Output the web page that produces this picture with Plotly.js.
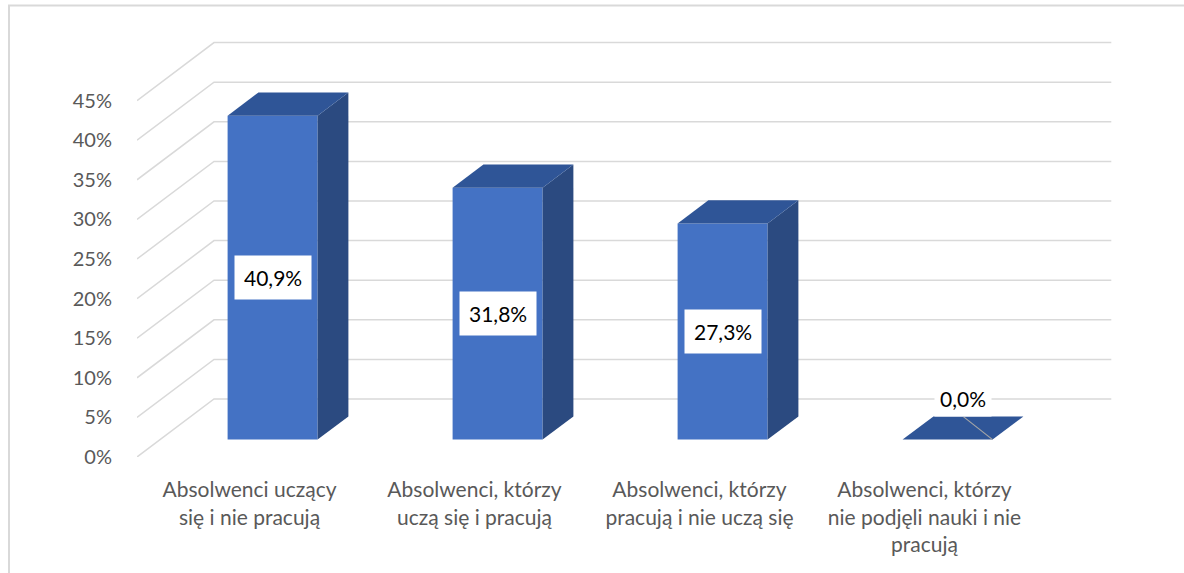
<!DOCTYPE html>
<html>
<head>
<meta charset="utf-8">
<script src="https://cdn.plot.ly/plotly-3.0.1.min.js"></script>
<style>
  html, body { margin: 0; padding: 0; background: #ffffff; }
  #chart { width: 1184px; height: 573px; }
</style>
</head>
<body>
<div id="chart"></div>
<script>
// ---- data ----
const categories = [
  'Absolwenci uczący<br>się i nie pracują',
  'Absolwenci, którzy<br>uczą się i pracują',
  'Absolwenci, którzy<br>pracują i nie uczą się',
  'Absolwenci, którzy<br>nie podjęli nauki i nie<br>pracują'
];
const values = [40.9, 31.8, 27.3, 0.0];
const valueLabels = ['40,9%', '31,8%', '27,3%', '0,0%'];
const yTickVals = [0, 5, 10, 15, 20, 25, 30, 35, 40, 45];
const yTickLabels = ['0%', '5%', '10%', '15%', '20%', '25%', '30%', '35%', '40%', '45%'];

// ---- 3D look (oblique projection in axis units) ----
const W = 1184, H = 573;
const M = { l: 137, r: 57, t: 30, b: 116 };
const pxPerX = 225, pxPerY = 7.92;
const plotW = W - M.l - M.r, plotH = H - M.t - M.b;
const xRange = [0, plotW / pxPerX];
const yRange = [0, plotH / pxPerY];
const DX = 77 / pxPerX;   // x shift for full floor depth
const DY = 58 / pxPerY;   // y shift for full floor depth
const zFront = 0.30, zDepth = 0.40, halfW = 0.2;
const cFront = '#4472C4', cTop = '#2F5597', cSide = '#2B4A80';
const gridColor = '#D9D9D9';
const font = 'Lato, "Open Sans", sans-serif';

const traces = [];
// wall gridlines
yTickVals.forEach(v => {
  traces.push({
    type: 'scatter', mode: 'lines', hoverinfo: 'skip', showlegend: false,
    x: [0, DX, categories.length + DX - 0.012],
    y: [v, v + DY, v + DY],
    line: { color: gridColor, width: 1.5 }
  });
});

function poly(xs, ys, color) {
  traces.push({
    type: 'scatter', mode: 'lines', fill: 'toself', fillcolor: color,
    hoverinfo: 'skip', showlegend: false,
    x: xs.concat([xs[0]]), y: ys.concat([ys[0]]),
    line: { width: 0, color: color }
  });
}

const annotations = [];
values.forEach((v, i) => {
  const l = i + 0.5 - halfW + zFront * DX;
  const r = l + 2 * halfW;
  const b = zFront * DY;
  const t = b + v;
  const ox = zDepth * DX, oy = zDepth * DY;
  if (v > 0) {
    poly([l, r, r, l], [b, b, t, t], cFront);
    poly([r, r + ox, r + ox, r], [b, b + oy, t + oy, t], cSide);
  }
  poly([l, r, r + ox, l + ox], [t, t, t + oy, t + oy], cTop);
  if (v > 0) {
    annotations.push({
      x: (l + r) / 2, y: b + v / 2, xref: 'x', yref: 'y',
      text: valueLabels[i], showarrow: false,
      font: { family: font, size: 21, color: '#000000' },
      bgcolor: '#ffffff', borderpad: 9
    });
  } else {
    // edge line on the flat bar
    traces.push({
      type: 'scatter', mode: 'lines', hoverinfo: 'skip', showlegend: false,
      x: [r, (l + r) / 2 + ox / 2], y: [t, t + oy],
      line: { color: '#A6A6A6', width: 1.2 }
    });
    annotations.push({
      x: (l + r) / 2 + ox / 2, y: t + oy / 2, xref: 'x', yref: 'y',
      yshift: 30,
      text: valueLabels[i], showarrow: false,
      font: { family: font, size: 21, color: '#000000' },
      bgcolor: '#ffffff', borderpad: 5
    });
  }
});

const layout = {
  width: W, height: H,
  margin: M,
  paper_bgcolor: 'rgba(0,0,0,0)', plot_bgcolor: 'rgba(0,0,0,0)',
  showlegend: false,
  xaxis: {
    range: xRange, fixedrange: true,
    tickmode: 'array',
    tickvals: categories.map((c, i) => i + 0.5),
    ticktext: categories,
    showgrid: false, zeroline: false, showline: false,
    ticks: 'outside', ticklen: 14, tickcolor: 'rgba(0,0,0,0)',
    tickfont: { family: font, size: 21, color: '#595959' }
  },
  yaxis: {
    range: yRange, fixedrange: true,
    tickmode: 'array', tickvals: yTickVals, ticktext: yTickLabels,
    showgrid: false, zeroline: false, showline: false,
    ticks: 'outside', ticklen: 20, tickcolor: 'rgba(0,0,0,0)',
    tickfont: { family: font, size: 20, color: '#595959' }
  },
  annotations: annotations,
  shapes: [{
    type: 'rect', xref: 'paper', yref: 'paper', layer: 'below',
    x0: (9 - M.l) / plotW, x1: (W + 20 - M.l) / plotW,
    y0: (M.t + plotH - (H + 20)) / plotH, y1: (M.t + plotH - 5.5) / plotH,
    line: { color: '#D9D9D9', width: 2 }, fillcolor: 'rgba(0,0,0,0)'
  }]
};

Plotly.newPlot('chart', traces, layout, { displayModeBar: false, staticPlot: true });
</script>
</body>
</html>
